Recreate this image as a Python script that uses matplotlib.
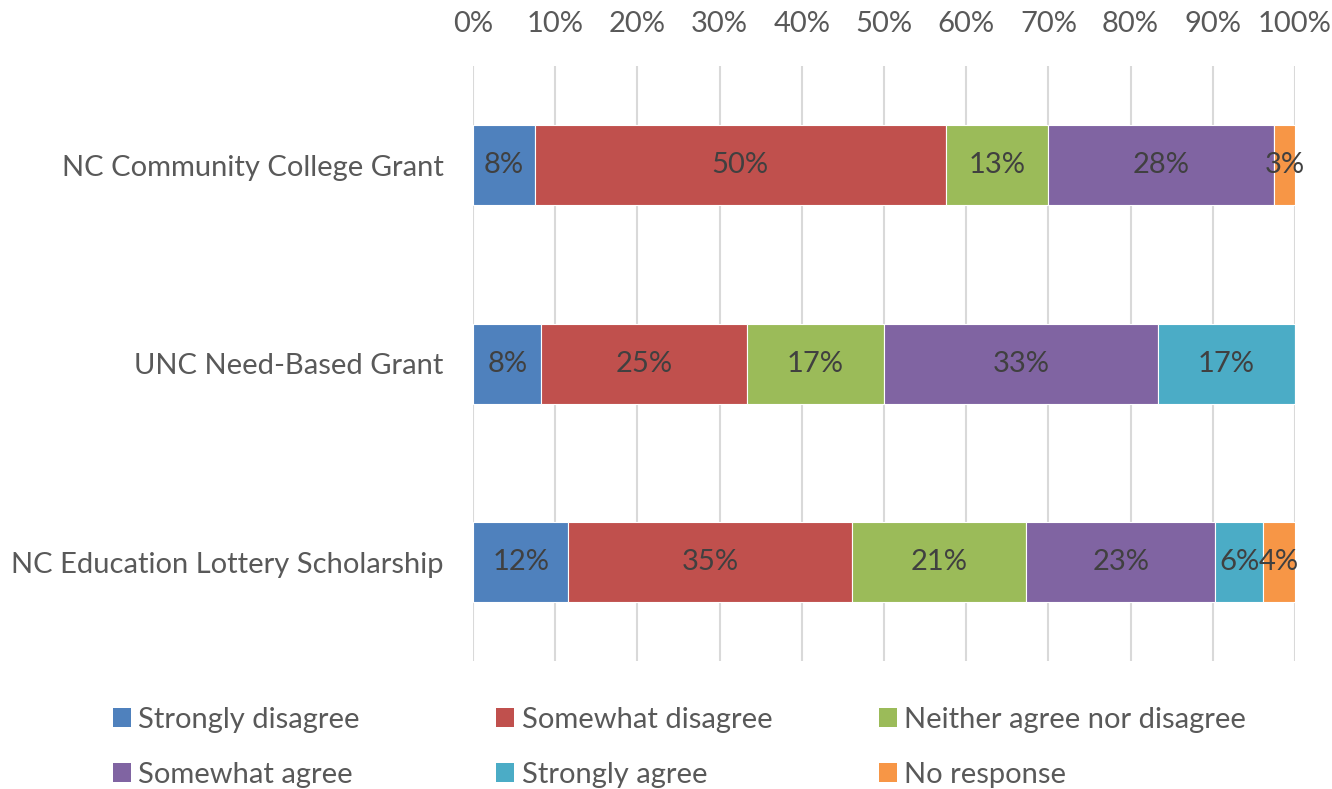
import numpy as np
import matplotlib.pyplot as plt
from matplotlib.patches import Patch

plt.rcParams['font.family'] = ['Lato', 'DejaVu Sans']

programs = ['NC Community College Grant', 'UNC Need-Based Grant',
            'NC Education Lottery Scholarship']
responses = ['Strongly disagree', 'Somewhat disagree', 'Neither agree nor disagree',
             'Somewhat agree', 'Strongly agree', 'No response']
colors = ['#4F81BD', '#C0504D', '#9BBB59', '#8064A2', '#4BACC6', '#F79646']

# share of responses (%) per program, in the order of `responses`
strongly_disagree = [7.5, 8.33, 11.6]
somewhat_disagree = [50.0, 25.0, 34.5]
neither = [12.5, 16.67, 21.2]
somewhat_agree = [27.5, 33.33, 23.0]
strongly_agree = [0.0, 16.67, 5.8]
no_response = [2.5, 0.0, 3.9]
# labels as printed on the bars
bar_labels = [['8%', '8%', '12%'], ['50%', '25%', '35%'], ['13%', '17%', '21%'],
              ['28%', '33%', '23%'], ['', '17%', '6%'], ['3%', '', '4%']]
series = [strongly_disagree, somewhat_disagree, neither,
          somewhat_agree, strongly_agree, no_response]

fs = 21

fig = plt.figure(figsize=(13.32, 7.89), dpi=100)
ax = fig.add_axes([0.3551, 0.1620, 0.6171, 0.7541])

y = np.arange(len(programs))
left = np.zeros(len(programs))
for vals, col, labs in zip(series, colors, bar_labels):
    bars = ax.barh(y, vals, left=left, height=0.404, color=col,
                   edgecolor='white', linewidth=0.8, zorder=3)
    ax.bar_label(bars, labels=labs, label_type='center', fontsize=fs,
                 color='#404040')
    left += np.array(vals)

ax.set_xlim(0, 100)
ax.set_ylim(2.5, -0.5)
ax.set_xticks(np.arange(0, 101, 10))
ax.set_xticklabels([f'{v}%' for v in range(0, 101, 10)])
ax.xaxis.tick_top()
ax.tick_params(axis='x', length=0, pad=21, labelsize=fs, labelcolor='#595959')
ax.tick_params(axis='y', length=0, pad=21, labelsize=fs, labelcolor='#595959')
ax.set_yticks(y)
ax.set_yticklabels(programs)
ax.grid(axis='x', color='#D9D9D9', linewidth=1.5, zorder=0)
for s in ax.spines.values():
    s.set_visible(False)

# legend: three columns of two rows
col_x = [0.0845, 0.3725, 0.6600]
for i, cx in enumerate(col_x):
    handles = [Patch(facecolor=colors[i], label=responses[i]),
               Patch(facecolor=colors[i + 3], label=responses[i + 3])]
    fig.legend(handles=handles, loc='upper left', bbox_to_anchor=(cx, 0.104),
               frameon=False, fontsize=fs, labelcolor='#595959',
               handlelength=0.62, handleheight=0.62, handletextpad=0.25,
               labelspacing=1.0, borderaxespad=0, borderpad=0)

fig.savefig('out.png', dpi=100)
